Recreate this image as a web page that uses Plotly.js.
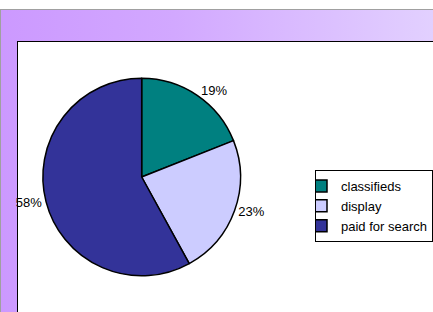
<!DOCTYPE html>
<html>
<head>
<meta charset="utf-8">
<script src="https://cdn.plot.ly/plotly-3.0.1.min.js"></script>
<style>
  html, body { margin:0; padding:0; background:#ffffff; }
  #wrap { position:relative; width:433px; height:312px; overflow:hidden; background:#ffffff; }
  #bg { position:absolute; left:0; top:9px; width:433px; height:303px;
        background:linear-gradient(to right, #cc99ff 0%, #d2a8ff 40%, #e2d0ff 100%);
        border-top:1px solid #a0a0a0; border-left:1px solid #a0a0a0; box-sizing:border-box; }
  #white { position:absolute; left:17px; top:41px; width:430px; height:300px;
        background:#ffffff; border:1px solid #000000; box-sizing:border-box; }
  #chart { position:absolute; left:0; top:0; width:433px; height:312px; }
</style>
</head>
<body>
<div id="wrap">
  <div id="bg"></div>
  <div id="white"></div>
  <div id="chart"></div>
</div>
<script>
const categories = ["classifieds", "display", "paid for search"];
const shares = [19, 23, 58];
const sliceColors = ["#008080", "#ccccff", "#333399"];

const data = [{
  type: "pie",
  labels: categories,
  values: shares,
  sort: false,
  direction: "clockwise",
  rotation: 0,
  textinfo: "percent",
  textposition: "outside",
  texttemplate: "%{percent:.0%}",
  outsidetextfont: { family: "Liberation Sans, Arial, sans-serif", size: 13, color: "#000000" },
  marker: { colors: sliceColors, line: { color: "#000000", width: 1.5 } },
  domain: { x: [43/433, 241/433], y: [36/312, 234/312] },
  hoverinfo: "none"
}];

const layout = {
  width: 433, height: 312,
  margin: { l: 0, r: 0, t: 0, b: 0 },
  paper_bgcolor: "rgba(0,0,0,0)",
  plot_bgcolor: "rgba(0,0,0,0)",
  font: { family: "Liberation Sans, Arial, sans-serif", size: 13, color: "#000000" },
  showlegend: true,
  legend: {
    x: 316/433, y: (312-170)/312, xanchor: "left", yanchor: "top",
    bgcolor: "#ffffff", bordercolor: "#000000", borderwidth: 1,
    indentation: -15,
    font: { family: "Liberation Sans, Arial, sans-serif", size: 13, color: "#000000" },
    traceorder: "normal"
  }
};

Plotly.newPlot("chart", data, layout, { staticPlot: true, displayModeBar: false });
</script>
</body>
</html>
